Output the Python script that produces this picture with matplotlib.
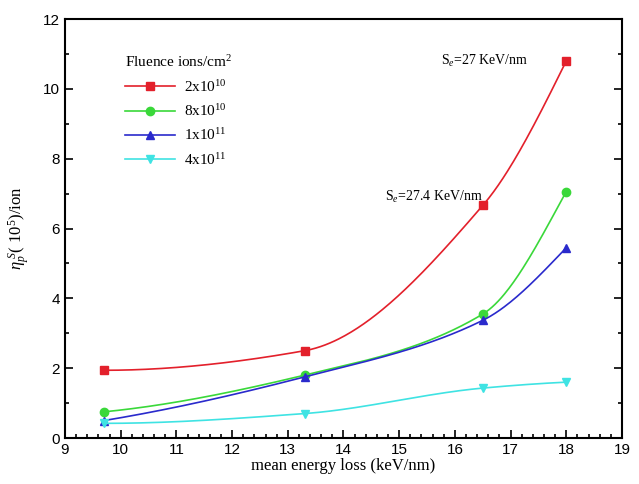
import numpy as np
import matplotlib.pyplot as plt
from matplotlib.ticker import MultipleLocator

# data
energy_loss = [9.7, 13.3, 16.5, 18.0]
y_2e10 = [1.94, 2.50, 6.66, 10.80]
y_8e10 = [0.75, 1.80, 3.55, 7.06]
y_1e11 = [0.50, 1.75, 3.37, 5.45]
y_4e11 = [0.42, 0.70, 1.43, 1.60]

series = [
    (y_2e10, '2x10$^{10}$', '#e3202b', 's'),
    (y_8e10, '8x10$^{10}$', '#3ad83a', 'o'),
    (y_1e11, '1x10$^{11}$', '#2a2acc', '^'),
    (y_4e11, '4x10$^{11}$', '#3fe3e3', 'v'),
]


def pchip(x, y, xs):
    # monotone cubic (Fritsch-Carlson) curve through the measured points
    x = np.asarray(x, float)
    y = np.asarray(y, float)
    h = np.diff(x)
    d = np.diff(y) / h
    m = np.zeros_like(y)
    for k in range(1, len(x) - 1):
        if d[k - 1] * d[k] > 0:
            w1 = 2 * h[k] + h[k - 1]
            w2 = h[k] + 2 * h[k - 1]
            m[k] = (w1 + w2) / (w1 / d[k - 1] + w2 / d[k])
    m[0] = ((2 * h[0] + h[1]) * d[0] - h[0] * d[1]) / (h[0] + h[1])
    if np.sign(m[0]) != np.sign(d[0]):
        m[0] = 0
    m[-1] = ((2 * h[-1] + h[-2]) * d[-1] - h[-1] * d[-2]) / (h[-1] + h[-2])
    if np.sign(m[-1]) != np.sign(d[-1]):
        m[-1] = 0
    idx = np.clip(np.searchsorted(x, xs) - 1, 0, len(x) - 2)
    t = (xs - x[idx]) / h[idx]
    h00 = 2 * t**3 - 3 * t**2 + 1
    h10 = t**3 - 2 * t**2 + t
    h01 = -2 * t**3 + 3 * t**2
    h11 = t**3 - t**2
    return (h00 * y[idx] + h10 * h[idx] * m[idx]
            + h01 * y[idx + 1] + h11 * h[idx] * m[idx + 1])


serif = 'Liberation Serif'
plt.rcParams['font.family'] = 'Liberation Sans'
plt.rcParams['mathtext.fontset'] = 'custom'
plt.rcParams['mathtext.rm'] = serif
plt.rcParams['mathtext.it'] = serif + ':italic'

fig = plt.figure(figsize=(6.39, 4.84), dpi=100)
ax = fig.add_axes([0.1017, 0.095, 0.8717, 0.8657])

xs = np.linspace(energy_loss[0], energy_loss[-1], 300)
for ys, label, color, marker in series:
    ax.plot(xs, pchip(energy_loss, ys, xs), color=color, lw=1.2)
    ax.plot(energy_loss, ys, linestyle='none', marker=marker, ms=6,
            color=color, markeredgecolor=color)
    ax.plot([], [], color=color, lw=1.2, marker=marker, ms=6, label=label)

ax.set_xlim(9, 19)
ax.set_ylim(0, 12)
ax.xaxis.set_major_locator(MultipleLocator(1))
ax.xaxis.set_minor_locator(MultipleLocator(0.2))
ax.yaxis.set_major_locator(MultipleLocator(2))
ax.yaxis.set_minor_locator(MultipleLocator(1))
ax.tick_params(which='both', direction='in', right=True, top=False,
               labelsize=11, width=1.2)
ax.tick_params(which='major', length=6)
ax.tick_params(which='minor', length=3)
for sp in ax.spines.values():
    sp.set_linewidth(1.5)

ax.set_xlabel('mean energy loss (keV/nm)', family=serif, fontsize=12, labelpad=1)
ax.set_ylabel('$\\eta_p^{\\ S}$( 10$^5$)/ion', family=serif, fontsize=12, labelpad=8)

ax.text(15.75, 10.8, 'S$_e$=27 KeV/nm', family=serif, fontsize=10, va='center')
ax.text(14.75, 6.9, 'S$_e$=27.4 KeV/nm', family=serif, fontsize=10, va='center')

leg = ax.legend(loc='upper left', bbox_to_anchor=(0.096, 0.93), frameon=False,
                title='Fluence ions/cm$^2$', handlelength=3.3, labelspacing=0.55,
                prop={'family': serif, 'size': 11}, alignment='left',
                borderaxespad=0, handletextpad=0.6)
leg.get_title().set_family(serif)
leg.get_title().set_fontsize(11)

fig.savefig('out.png', dpi=100)
